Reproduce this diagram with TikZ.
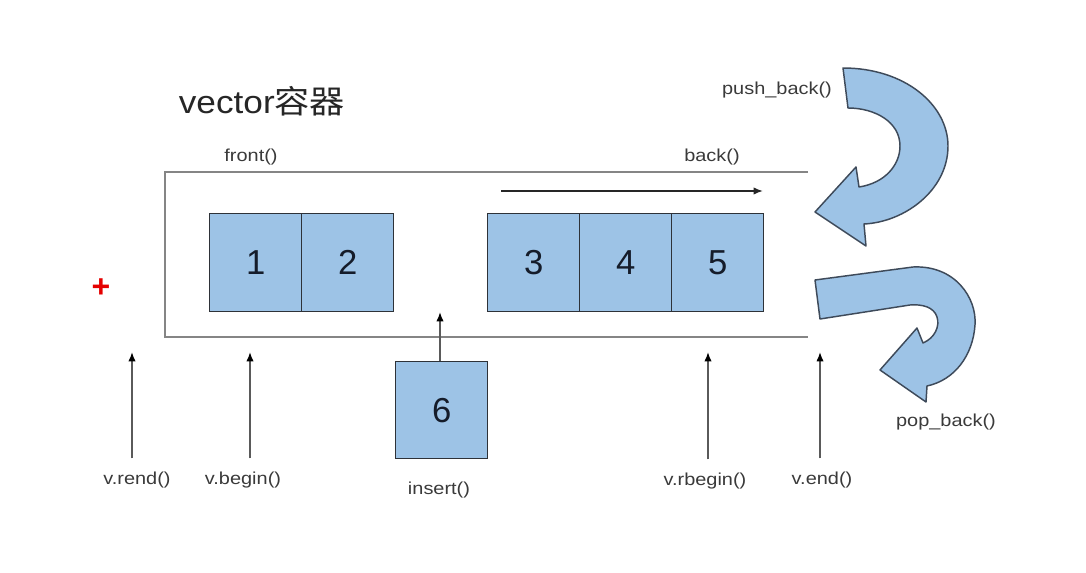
\documentclass[tikz,border=0pt]{standalone}
\usepackage{fontspec}
\setmainfont{Liberation Sans}
\newfontfamily\cjk{Noto Sans CJK SC}
\usetikzlibrary{arrows.meta}
\definecolor{cellblue}{HTML}{9DC3E6}
\definecolor{cellline}{HTML}{2E3238}
\definecolor{numcol}{HTML}{151C2A}
\definecolor{labcol}{HTML}{3A3A3A}
\definecolor{ptrcol}{HTML}{5A5A5A}
\definecolor{framecol}{HTML}{858585}
\definecolor{bigline}{HTML}{3E4A5A}
\tikzset{
  cell/.style={draw=cellline, fill=cellblue, line width=1.1pt, minimum width=69pt, minimum height=73.5pt, inner sep=0pt, anchor=north west, font=\fontsize{26}{30}\selectfont, text=numcol},
  lab/.style={font=\fontsize{13}{15}\selectfont, text=labcol, inner sep=0pt, xscale=1.15, transform shape},
  ptr/.style={draw=ptrcol, line width=1.1pt, -{Latex[length=7pt,width=5.5pt,fill=black,color=black]}, shorten <=10pt},
  boxframe/.style={draw=framecol, line width=1.6pt},
  bigarrow/.style={draw=bigline, fill=cellblue, line width=1.1pt, line join=round}
}
\begin{document}
\begin{tikzpicture}[x=0.75pt,y=-0.75pt]
\useasboundingbox[fill=white] (0,0) rectangle (1086,573);

% title
\node[font=\fontsize{24}{28}\selectfont, text=black!85, inner sep=0pt, xscale=1.1, transform shape] (title) at (262,101) {vector{\cjk 容器}};

% container frame
\draw[boxframe] (808,172) -- (165,172) -- (165,337) -- (808,337);

% cells
\node[cell] (c1) at (209,213) {1};
\node[cell] (c2) at (301,213) {2};
\node[cell] (c3) at (487,213) {3};
\node[cell] (c4) at (579,213) {4};
\node[cell] (c5) at (671,213) {5};
\node[cell, minimum height=72.75pt] (c6) at (395,361) {6};

% labels
\node[lab] (lfront) at (251,157) {front()};
\node[lab] (lback) at (712,157) {back()};
\node[lab] (lpush) at (777,90) {push\_back()};
\node[lab] (lpop) at (946,422) {pop\_back()};
\node[lab] (lrend) at (137,480) {v.rend()};
\node[lab] (lbegin) at (243,480) {v.begin()};
\node[lab] (linsert) at (439,490) {insert()};
\node[lab] (lrbegin) at (705,481) {v.rbegin()};
\node[lab] (lend) at (822,480) {v.end()};

% red plus
\node[text=red!90!black, font=\fontsize{24}{26}\bfseries, inner sep=0pt] (plus) at (101,288) {+};

% pointer arrows
\coordinate (trend) at (132,352);
\coordinate (tbegin) at (250,352);
\coordinate (trbegin) at (708,352);
\coordinate (tend) at (820,352);
\coordinate (tins) at (440,312);
\draw[ptr] (trend |- lrend.north) -- (trend);
\draw[ptr] (tbegin |- lbegin.north) -- (tbegin);
\draw[ptr] (trbegin |- lrbegin.north) -- (trbegin);
\draw[ptr] (tend |- lend.north) -- (tend);
\draw[ptr, shorten <=0pt] (tins |- c6.north) -- (tins);

% iteration arrow
\coordinate (itA) at (501,191);
\coordinate (itB) at (763,191);
\draw[draw=black!85, line width=1.1pt, -{Latex[length=7pt,width=5.5pt]}] (itA) -- (itB);

% push_back curved arrow
\path[bigarrow] (843,68) .. controls (905,68) and (948,105) .. (948,146)
  .. controls (948,190) and (905,222) .. (864,224)
  -- (866,246) -- (815,212) -- (856,167) -- (859,187)
  .. controls (885,183) and (900,165) .. (900,146)
  .. controls (900,122) and (875,108) .. (848,108) -- cycle;

% pop_back curved arrow
\path[bigarrow] (815,280) -- (913,267)
  .. controls (955,265) and (977,298) .. (975,325)
  .. controls (973,355) and (955,380) .. (927,386)
  -- (926,402) -- (880,370) -- (917,328) -- (923,343)
  .. controls (935,338) and (940,326) .. (937,317)
  .. controls (934,307) and (922,304) .. (910,305)
  -- (820,319) -- cycle;
\end{tikzpicture}
\end{document}
